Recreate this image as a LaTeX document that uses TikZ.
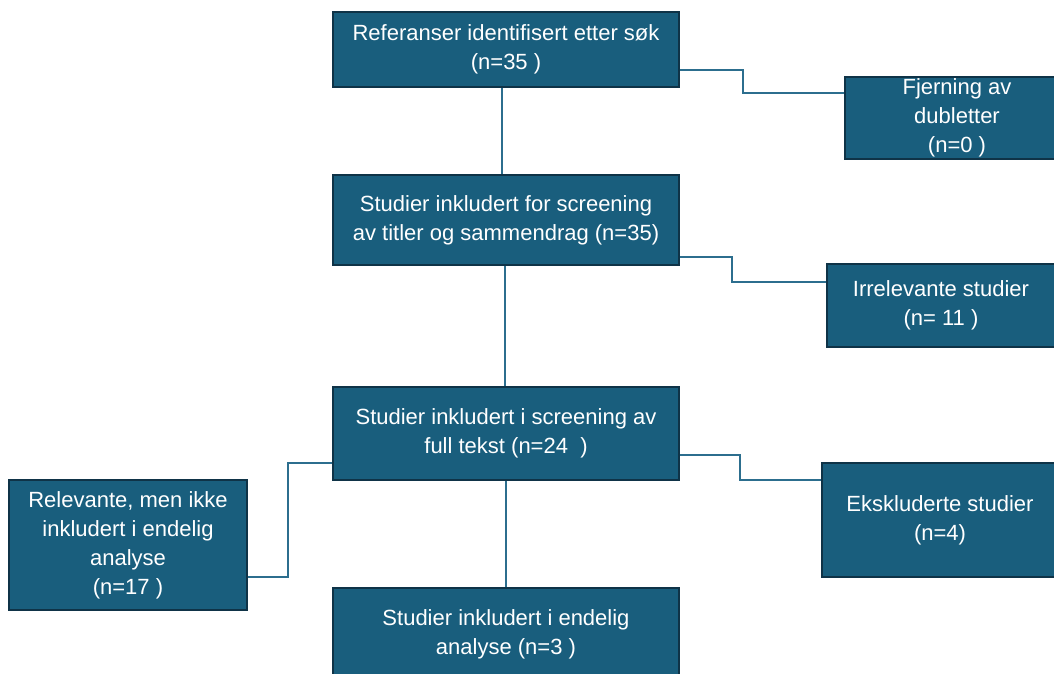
\documentclass[tikz,border=0pt]{standalone}
\usepackage{fontspec}
\setmainfont{Liberation Sans}
\definecolor{boxfill}{HTML}{195E7D}
\definecolor{boxline}{HTML}{0F3347}
\definecolor{conncol}{HTML}{2C6E8E}
\tikzset{
  flowbox/.style={draw=boxline, line width=1.6pt, fill=boxfill, text=white, align=center,
    inner sep=0pt, font=\fontsize{22}{29}\selectfont},
  conn/.style={draw=conncol, line width=1.6pt}
}
\begin{document}
\begin{tikzpicture}[x=1pt,y=-1pt]
\useasboundingbox (0,0) rectangle (1054,674);
\clip (0,0) rectangle (1054,674);
\node[flowbox, minimum width=346pt, minimum height=75pt] (b1) at (506,49.5) {Referanser identifisert etter søk\\(n=35 )};
\node[flowbox, minimum width=224pt, minimum height=82pt] (b2) at (957,118) {Fjerning av\\dubletter\\(n=0 )};
\node[flowbox, minimum width=346pt, minimum height=90pt] (b3) at (506,220) {Studier inkludert for screening\\av titler og sammendrag (n=35)};
\node[flowbox, minimum width=228pt, minimum height=83pt] (b4) at (941,305.5) {Irrelevante studier\\(n= 11 )};
\node[flowbox, minimum width=346pt, minimum height=93pt] (b5) at (506,433.5) {Studier inkludert i screening av\\full tekst (n=24~~)};
\node[flowbox, minimum width=238pt, minimum height=130pt] (b6) at (128,545) {Relevante, men ikke\\inkludert i endelig\\analyse\\(n=17 )};
\node[flowbox, minimum width=236pt, minimum height=114pt] (b7) at (940,520) {Ekskluderte studier\\(n=4)};
\node[flowbox, minimum width=346pt, minimum height=92pt] (b8) at (506,634) {Studier inkludert i endelig\\analyse (n=3 )};
\draw[conn] ([xshift=-4pt]b1.south) -- ([xshift=-4pt]b3.north);
\draw[conn] ([xshift=-1pt]b3.south) -- ([xshift=-1pt]b5.north);
\draw[conn] (b5.south) -- (b8.north);
\draw[conn] ([yshift=-20.5pt]b1.east) -- ++(63,0) |- ([yshift=25pt]b2.west);
\draw[conn] ([yshift=-37pt]b3.east) -- ++(52,0) |- ([yshift=23.5pt]b4.west);
\draw[conn] ([yshift=-21.5pt]b5.east) -- ++(60,0) |- ([yshift=40pt]b7.west);
\draw[conn] ([yshift=-29.5pt]b5.west) -- ++(-44,0) |- ([yshift=-32pt]b6.east);
\end{tikzpicture}
\end{document}
